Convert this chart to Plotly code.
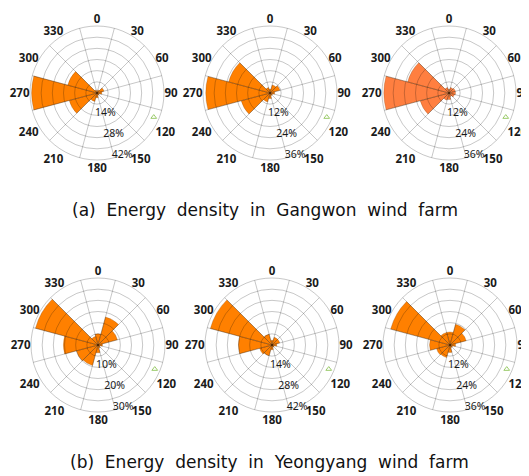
import plotly.graph_objects as go

# page body adds an 8px margin, so the figure is sized to fit the 529x476 window
W, H = 521, 468
OFF = 8

directions = [0, 30, 60, 90, 120, 150, 180, 210, 240, 270, 300, 330]
dir_labels = [str(d) for d in directions]
grid_spokes = [15, 45, 75, 105, 135, 165, 195, 225, 255, 285, 315, 345]

# Energy density (%) by direction
gangwon_a1 = [1, 2, 4.5, 3, 1.5, 1.5, 3, 5.5, 18, 41, 19, 2]
gangwon_a2 = [2, 4.5, 5.5, 2.5, 1.5, 1.5, 3, 5, 16, 34.5, 23, 3]
gangwon_a3 = [2, 3, 3.5, 3.5, 3, 2, 3.5, 4, 16, 35, 23, 3]
yeong_b1 = [5, 13, 9, 2, 1, 1.5, 3.5, 9.5, 10, 15.5, 29, 4]
yeong_b2 = [3, 5, 5, 3, 1.5, 1.5, 3, 7, 8, 21, 40, 7]
yeong_b3 = [7, 11.5, 9, 3, 1.5, 1.5, 4, 7, 7.5, 11, 33, 7]

radial_steps = [7, 6, 6, 5, 7, 6]
bar_colors = ["#FF8000", "#FF8000", "#FF7F40", "#FF8000", "#FF8000", "#FF8000"]
series = [gangwon_a1, gangwon_a2, gangwon_a3, yeong_b1, yeong_b2, yeong_b3]

captions = ["(a)  Energy  density  in  Gangwon  wind  farm",
            "(b)  Energy  density  in  Yeongyang  wind  farm"]

centers = [(97, 93), (270, 93), (449, 93), (98, 345), (272, 345), (450, 345)]
R = 67
gridc = "rgba(0,0,0,0.22)"
label_theta = 158

fig = go.Figure()
layout = {}
for k, (vals, step, col, (cx, cy)) in enumerate(zip(series, radial_steps, bar_colors, centers)):
    cx -= OFF
    cy -= OFF
    rmax = step * 6
    dom = dict(x=[(cx - R) / W, (cx + R) / W], y=[1 - (cy + R) / H, 1 - (cy - R) / H])
    pa = f"polar{2*k+1}" if k > 0 else "polar"
    pb = f"polar{2*k+2}"
    tv = [step * i for i in range(1, 7)]
    lab_r = [step * i for i in (2, 4, 6)]
    lab_t = [f"{v}%" for v in lab_r]
    fig.add_trace(go.Barpolar(r=vals, theta=directions, width=[30] * 12,
                              marker=dict(color=col, line=dict(color="rgba(120,60,0,0.5)", width=0.5)),
                              subplot=pa, showlegend=False, hoverinfo="skip"))
    fig.add_trace(go.Scatterpolar(r=[rmax * 0.92], theta=[113], mode="markers",
                                  marker=dict(symbol="triangle-up-open", size=5, color="#9BCB6A"),
                                  subplot=pb, showlegend=False, hoverinfo="skip"))
    fig.add_trace(go.Scatterpolar(r=lab_r, theta=[label_theta] * 3, mode="text", text=lab_t,
                                  textposition="middle center", cliponaxis=False,
                                  textfont=dict(family="Noto Sans", size=10.5, color="#1a1a1a"),
                                  subplot=pb, showlegend=False, hoverinfo="skip"))
    layout[pa] = dict(
        domain=dom, bgcolor="white",
        angularaxis=dict(rotation=90, direction="clockwise", tickmode="array",
                         tickvals=directions, ticktext=dir_labels, showgrid=False,
                         showline=False, ticks="",
                         tickfont=dict(family="Noto Sans", size=11.5, color="#1a1a1a", weight="bold")),
        radialaxis=dict(range=[0, rmax], visible=False),
    )
    layout[pb] = dict(
        domain=dom, bgcolor="rgba(0,0,0,0)",
        angularaxis=dict(rotation=90, direction="clockwise", tickmode="array",
                         tickvals=grid_spokes, showticklabels=False, showgrid=True,
                         gridcolor=gridc, gridwidth=1, showline=True, linecolor=gridc,
                         linewidth=1, ticks=""),
        radialaxis=dict(range=[0, rmax], tickmode="array", tickvals=tv,
                        showticklabels=False, showline=False, ticks="",
                        gridcolor=gridc, gridwidth=1),
    )

fig.update_layout(**layout)
fig.update_layout(
    width=W, height=H, margin=dict(l=0, r=0, t=0, b=0),
    paper_bgcolor="white", plot_bgcolor="white", showlegend=False,
    annotations=[
        dict(text=captions[0], x=(265 - OFF) / W, y=1 - (210 - OFF) / H, xref="paper", yref="paper",
             showarrow=False, font=dict(family="DejaVu Sans", size=17, color="#111"),
             xanchor="center", yanchor="middle"),
        dict(text=captions[1], x=(269 - OFF) / W, y=1 - (462 - OFF) / H, xref="paper", yref="paper",
             showarrow=False, font=dict(family="DejaVu Sans", size=17, color="#111"),
             xanchor="center", yanchor="middle"),
    ],
)
fig.write_html("out.html")
